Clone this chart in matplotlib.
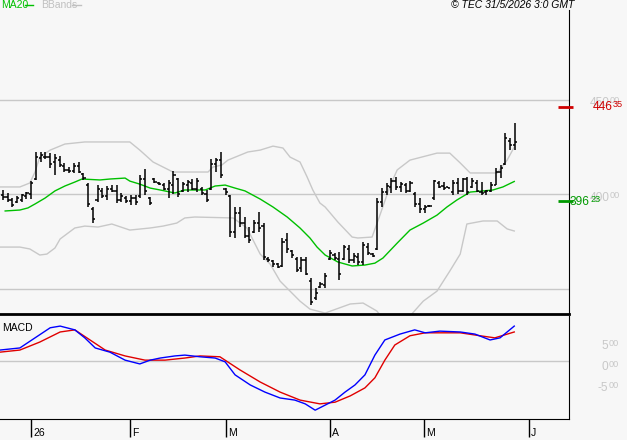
import matplotlib
matplotlib.use("Agg")
import matplotlib.pyplot as plt
from matplotlib.lines import Line2D

# daily OHLC bars (bar index 0 = late Dec 2025)
opens = [399.5, 398.5, 397, 396, 397, 399, 400,
         408, 419, 420, 420, 417, 418, 415, 413, 412.5, 415, 410.5,
         405, 392, 397, 402, 399, 403, 402, 397, 398, 396.5,
         398, 399, 408, 398, 408, 406, 405, 403, 405, 408,
         402, 405, 406, 403, 403, 400, 403, 416, 418, 403,
         399, 380, 390, 385, 378, 380, 385, 383, 366, 364.5,
         363, 362, 376, 370, 366, 361, 365, 354, 345, 351,
         352, 366, 368, 366, 366, 371, 365, 367, 364, 372,
         368.5, 371, 396, 401, 404, 407, 404, 405, 402, 400,
         395, 392, 394, 398, 406, 404.5, 403.8, 401, 406, 402,
         408, 404, 406, 401, 401, 401.5, 405, 412, 416, 428,
         426]
highs = [402.3, 400.7, 398.0, 399.1, 400.2, 401.2, 407.0,
         422.4, 422.4, 422.4, 421.8, 421.3, 420.3, 416.6, 414.4, 416.6, 417.1, 411.3,
         406.0, 393.3, 404.9, 403.3, 404.4, 404.9, 404.9, 400.7, 399.1, 399.6,
         399.6, 410.2, 413.4, 398.6, 408.6, 406.5, 406.0, 407.6, 412.3, 408.6,
         406.5, 407.6, 408.1, 408.6, 403.9, 402.3, 418.7, 419.2, 422.4, 403.3,
         399.6, 393.3, 393.3, 388.0, 382.7, 386.4, 390.6, 384.8, 366.8, 365.2,
         363.6, 376.9, 379.5, 370.5, 366.8, 366.8, 366.8, 355.7, 350.4, 353.6,
         358.4, 370.5, 369.0, 369.5, 373.2, 373.2, 369.0, 369.0, 374.8, 374.2,
         369.0, 398.0, 403.3, 406.0, 408.6, 409.2, 406.5, 406.0, 407.0, 401.2,
         398.0, 394.3, 394.3, 407.6, 407.0, 406.5, 403.9, 407.6, 408.6, 408.6,
         409.2, 408.6, 407.6, 406.5, 402.3, 406.5, 413.9, 415.5, 432.4, 429.8,
         437.7]
lows = [397.0, 395.9, 393.3, 395.4, 395.9, 397.5, 397.5,
        407.6, 417.1, 418.7, 413.9, 410.2, 414.4, 411.8, 411.3, 411.3, 411.3, 407.6,
        393.3, 384.8, 395.9, 398.0, 397.0, 401.2, 395.4, 395.9, 395.4, 394.3,
        394.3, 398.0, 399.6, 394.3, 406.0, 404.9, 402.3, 398.0, 400.2, 398.6,
        401.2, 401.2, 402.3, 401.2, 399.6, 395.9, 402.3, 411.8, 408.6, 399.6,
        377.4, 376.9, 382.7, 376.9, 374.2, 379.5, 380.1, 365.2, 364.2, 361.5,
        361.0, 361.5, 369.0, 366.3, 358.9, 358.9, 357.3, 341.4, 344.1, 350.4,
        350.4, 365.2, 365.2, 354.7, 365.2, 363.6, 363.6, 362.6, 362.6, 367.9,
        366.8, 370.5, 393.3, 399.6, 400.7, 402.3, 401.2, 400.7, 401.2, 393.3,
        390.1, 390.1, 393.3, 397.0, 403.3, 402.3, 403.3, 399.6, 400.2, 401.2,
        399.6, 403.3, 401.2, 399.6, 399.6, 401.2, 404.9, 408.6, 415.5, 423.4,
        423.4]
closes = [398.5, 397, 394.5, 398, 399.5, 400.5, 406,
          420, 421, 419.5, 416, 419, 415.5, 413, 412.5, 415, 412, 408.5,
          395, 387, 403, 399, 403, 402, 397, 399, 396.5, 398,
          396, 408, 402, 395.5, 406.5, 405.5, 403, 406, 410, 400,
          405.5, 406.5, 403, 407, 400.5, 397, 416, 418, 410, 401,
          380, 390, 385, 378, 376, 385, 382, 367, 365, 363,
          361.5, 375, 371, 368, 360, 365, 358, 343, 348, 352.5,
          357, 369, 366.5, 358, 372, 365, 367.5, 364, 373, 369,
          367.5, 396, 401, 404.5, 407, 404, 405.5, 402, 406, 395,
          392, 393.5, 393.8, 407, 404, 403.5, 403.5, 406, 401.5, 408,
          401, 407, 402, 400.5, 401.5, 405, 412, 414, 430, 426,
          427.5]

# MA20 and Bollinger bands, read at sample points (bar index, price)
ma20_x = [0.5, 3.6, 5.3, 6.8, 8.9, 11.0, 13.1, 15.2, 16.7, 20.5, 22.6, 25.8, 26.8,
          28.9, 31.1, 33.2, 36.3, 38.4, 40.5, 42.7, 44.8, 46.9, 49.0, 51.1, 54.3,
          57.0, 60.0, 62.7, 64.8, 66.3, 68.0, 70.7, 73.7, 76.4, 78.5, 80.2, 83.2,
          85.9, 88.7, 91.6, 93.7, 95.8, 98.6, 101.3, 103.4, 105.5, 107.9]
ma20_y = [391.2, 391.7, 392.8, 394.9, 398.0, 401.8, 404.4, 406.5, 408.1, 407.6, 408.1,
          408.6, 407.0, 405.4, 403.3, 402.3, 400.7, 402.3, 402.3, 402.3, 404.4, 404.9,
          403.3, 401.8, 397.5, 393.3, 388.0, 382.2, 376.9, 372.1, 367.9, 364.2, 362.1,
          362.6, 363.6, 366.3, 374.2, 381.1, 384.8, 389.0, 393.3, 397.0, 401.2, 401.8,
          402.3, 403.9, 406.8]
bb_up_x = [-0.6, 3.6, 5.7, 6.8, 7.8, 10.0, 13.1, 17.3, 26.8, 28.9, 31.7, 35.9, 43.3,
           44.3, 46.2, 47.5, 51.7, 54.3, 57.0, 59.1, 60.6, 62.7, 64.2, 65.4, 66.9,
           68.0, 70.7, 73.7, 74.9, 77.9, 79.2, 81.7, 83.2, 85.9, 91.6, 94.3, 96.5,
           98.6, 104.3, 106.4, 107.9]
bb_up_y = [403.9, 403.9, 406.0, 411.8, 419.7, 423.4, 426.6, 427.7, 427.7, 423.4, 417.1,
           411.8, 411.8, 414.4, 415.5, 418.1, 422.4, 423.4, 425.5, 424.5, 419.7, 417.1,
           409.2, 402.3, 395.4, 393.3, 385.3, 377.4, 376.9, 377.4, 386.4, 404.4, 412.9,
           418.1, 421.8, 421.8, 416.6, 411.3, 411.3, 418.1, 425.0]
bb_lo_x = [-0.6, 3.6, 5.7, 7.8, 9.3, 11.0, 12.1, 15.2, 17.3, 20.1, 23.0, 26.8, 31.1,
           33.8, 36.7, 38.4, 40.5, 48.6, 51.5, 54.3, 56.4, 58.5, 60.6, 62.7, 64.8,
           68.0, 73.3, 76.0, 78.9, 81.1, 82.7, 84.4, 88.7, 91.6, 94.3, 96.5, 97.9,
           101.3, 104.3, 106.4, 107.9]
bb_lo_y = [372.1, 372.1, 371.1, 367.9, 368.4, 371.6, 376.4, 382.2, 383.2, 382.7, 384.3,
           381.1, 382.2, 383.2, 384.8, 387.5, 388.0, 387.5, 382.2, 368.4, 363.1, 354.1,
           348.8, 343.5, 339.3, 337.2, 342.0, 342.5, 338.3, 331.4, 325.0, 331.4, 343.5,
           348.8, 359.4, 368.4, 384.3, 385.9, 385.9, 381.7, 380.6]

# MACD (blue) and signal (red), read at sample points
macd_x = [-0.6, 3.6, 6.8, 10.0, 12.1, 15.2, 17.3, 19.5, 22.6, 25.8, 28.9, 31.1, 33.2,
          36.3, 38.4, 41.6, 44.8, 46.9, 49.0, 52.2, 55.3, 58.5, 61.6, 63.8, 65.9,
          68.0, 70.1, 72.2, 74.3, 76.4, 78.5, 80.6, 83.8, 86.9, 89.1, 92.2, 96.5,
          99.6, 102.8, 104.9, 107.9]
macd_y = [2.6, 3.1, 5.5, 7.9, 8.3, 7.4, 5.5, 3.1, 2.1, 0.2, -0.7, 0.2, 0.7, 1.2, 1.4,
          1.0, 0.7, -0.2, -3.3, -5.7, -7.4, -8.8, -9.3, -10.2, -11.7, -10.5, -9.3,
          -7.4, -5.7, -3.3, 1.4, 5.0, 6.4, 7.4, 6.7, 7.1, 6.9, 6.4, 5.0, 5.5, 8.3]
signal_x = [-0.6, 3.6, 7.8, 12.1, 15.2, 18.4, 21.6, 25.8, 30.0, 34.2, 38.4, 41.6, 45.8,
            50.0, 54.3, 58.5, 62.7, 66.9, 70.1, 73.3, 76.4, 78.5, 80.6, 82.7, 85.9,
            89.1, 92.2, 96.5, 100.7, 103.8, 107.9]
signal_y = [2.1, 2.6, 4.5, 6.9, 7.4, 5.0, 2.6, 1.2, 0.2, 0.2, 0.7, 1.2, 1.0, -2.1,
            -5.0, -7.4, -9.3, -10.2, -9.8, -8.3, -6.4, -4.0, 0.2, 3.8, 6.0, 6.7, 6.7,
            6.7, 6.0, 5.5, 6.9]

month_pos = [6.0, 26.8, 47.1, 69.0, 88.9, 111.0]
month_lbl = ["26", "F", "M", "A", "M", "J"]

resistance = 446.35
support = 396.23

BG = "#f7f7f7"
GRID = "#c8c8c8"
W, H = 627, 440
XLIM = (-0.59, 119.45)

plt.rcParams["font.family"] = ["Liberation Sans", "DejaVu Sans"]
fig = plt.figure(figsize=(W / 100, H / 100), dpi=100, facecolor=BG)
renderer = fig.canvas.get_renderer()


def fx(px):
    return px / W


def fy(py):
    return 1 - py / H


def split_label(x, y, whole, frac, color, align="right"):
    """Price label with the decimals drawn small and raised, like '446' + '35'."""
    big, small = 8.6, 6.6
    if align == "right":
        t2 = fig.text(fx(x), fy(y - 2.5), frac, ha="right", va="center",
                      fontsize=small, color=color)
        w = t2.get_window_extent(renderer).width
        fig.text(fx(x - w - 0.5), fy(y), whole, ha="right", va="center",
                 fontsize=big, color=color)
    else:
        t1 = fig.text(fx(x), fy(y), whole, ha="left", va="center",
                      fontsize=big, color=color)
        w = t1.get_window_extent(renderer).width
        fig.text(fx(x + w + 0.5), fy(y - 2.5), frac, ha="left", va="center",
                 fontsize=small, color=color)


ax = fig.add_axes([0, fy(314), fx(569), (314 - 10) / H], facecolor=BG)
ax2 = fig.add_axes([0, fy(419), fx(569), (419 - 316) / H], facecolor=BG)

# --- price panel ---
for lvl in [350, 400, 450]:
    ax.axhline(lvl, color=GRID, lw=1, zorder=1)
ax.plot(bb_up_x, bb_up_y, color=GRID, lw=1, zorder=2)
ax.plot(bb_lo_x, bb_lo_y, color=GRID, lw=1, zorder=2)
ax.plot(ma20_x, ma20_y, color="#00c000", lw=1, zorder=3)

idx = list(range(len(highs)))
ax.vlines(idx, lows, highs, color="black", lw=1.1, zorder=4)
ax.hlines(opens, [i - 0.45 for i in idx], idx, color="black", lw=1.1, zorder=4)
ax.hlines(closes, idx, [i + 0.45 for i in idx], color="black", lw=1.1, zorder=4)

ax.hlines(resistance, 117.2, 120.2, color="#d00000", lw=2, zorder=5, clip_on=False)
ax.hlines(support, 117.2, 120.2, color="#009900", lw=2, zorder=5, clip_on=False)

ax.set_xlim(*XLIM)
ax.set_ylim(336.7, 497.5)
ax.set_xticks([])
ax.set_yticks([])
for s in ["top", "left"]:
    ax.spines[s].set_visible(False)
ax.spines["right"].set_color("black")
ax.spines["bottom"].set_color("black")
ax.spines["bottom"].set_linewidth(2)

# --- MACD panel ---
ax2.axhline(0, color=GRID, lw=1, zorder=1)
ax2.plot(signal_x, signal_y, color="#e00000", lw=1, zorder=2)
ax2.plot(macd_x, macd_y, color="#0000ff", lw=1, zorder=3)
ax2.set_xlim(*XLIM)
ax2.set_ylim(-13.8, 10.7)
ax2.set_yticks([])
ax2.spines["top"].set_visible(False)
ax2.spines["left"].set_visible(False)
ax2.set_xticks(month_pos)
ax2.set_xticklabels([])
ax2.tick_params(axis="x", length=13, width=1, color="black", direction="out")
for pos, lbl in zip(month_pos, month_lbl):
    ax2.annotate(lbl, xy=(pos, 0), xycoords=("data", "axes fraction"),
                 xytext=(1.5, -14), textcoords="offset points",
                 ha="left", va="bottom", fontsize=7.5, color="black")
ax2.text(0.004, 0.88, "MACD", transform=ax2.transAxes, fontsize=7.5,
         ha="left", va="center", color="black")

# --- right side labels (grey axis values first, coloured levels drawn on top) ---
split_label(620, 103, "450", "00", "#c8c8c8")
split_label(620, 198, "400", "00", "#c8c8c8")
split_label(623, 107, "446", "35", "#d00000")
split_label(570, 202, "396", "23", "#009900", align="left")
split_label(619, 346, "5", "00", "#c8c8c8")
split_label(619, 367, "0", "00", "#c8c8c8")
split_label(619, 388, "-5", "00", "#c8c8c8")

# --- top legend ---
fig.text(fx(1), fy(5), "MA20", ha="left", va="center", fontsize=7.5, color="#00c000")
fig.add_artist(Line2D([fx(25), fx(33)], [fy(5), fy(5)], color="#00c000", lw=1))
fig.text(fx(41), fy(5), "BBands", ha="left", va="center", fontsize=7.5, color="#c0c0c0")
fig.add_artist(Line2D([fx(72), fx(81)], [fy(5), fy(5)], color="#c0c0c0", lw=1))
fig.text(fx(574), fy(5), "© TEC 31/5/2026 3:0 GMT", ha="right", va="center",
         fontsize=7.5, style="italic", color="black")

fig.savefig("out.png", dpi=100, facecolor=BG)
